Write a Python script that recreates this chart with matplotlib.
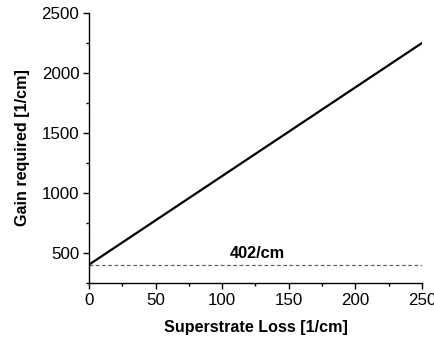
import numpy as np
import matplotlib
matplotlib.use("Agg")
import matplotlib.pyplot as plt
from matplotlib.ticker import MultipleLocator

plt.rcParams['font.family'] = ['Liberation Sans', 'DejaVu Sans']

# data
loss = [0, 250]
gain = [402, 2250]
threshold = 402

fig = plt.figure(figsize=(4.35, 3.38), dpi=100)
ax = fig.add_axes([0.2046, 0.163, 0.7655, 0.7985])

ax.plot(loss, gain, color='black', lw=1.6)
ax.axhline(threshold, color='#5a6a66', lw=0.9, ls=(0, (3, 2)))
ax.text(126, 492, '%d/cm' % threshold, ha='center', va='center',
        fontsize=11.7, fontweight='bold')

ax.set_xlim(0, 250)
ax.set_ylim(250, 2500)
ax.xaxis.set_major_locator(MultipleLocator(50))
ax.xaxis.set_minor_locator(MultipleLocator(25))
ax.yaxis.set_major_locator(MultipleLocator(500))
ax.yaxis.set_minor_locator(MultipleLocator(250))
ax.tick_params(which='major', length=4, width=1, labelsize=12.2, pad=3)
ax.tick_params(which='minor', length=2.5, width=1)

for s in ['top', 'right']:
    ax.spines[s].set_visible(False)
for s in ['left', 'bottom']:
    ax.spines[s].set_linewidth(1)

ax.set_xlabel('Superstrate Loss [1/cm]', fontsize=11.6, fontweight='bold', labelpad=9)
ax.set_ylabel('Gain required [1/cm]', fontsize=11.6, fontweight='bold', labelpad=8)

fig.savefig('out.png', dpi=100)
